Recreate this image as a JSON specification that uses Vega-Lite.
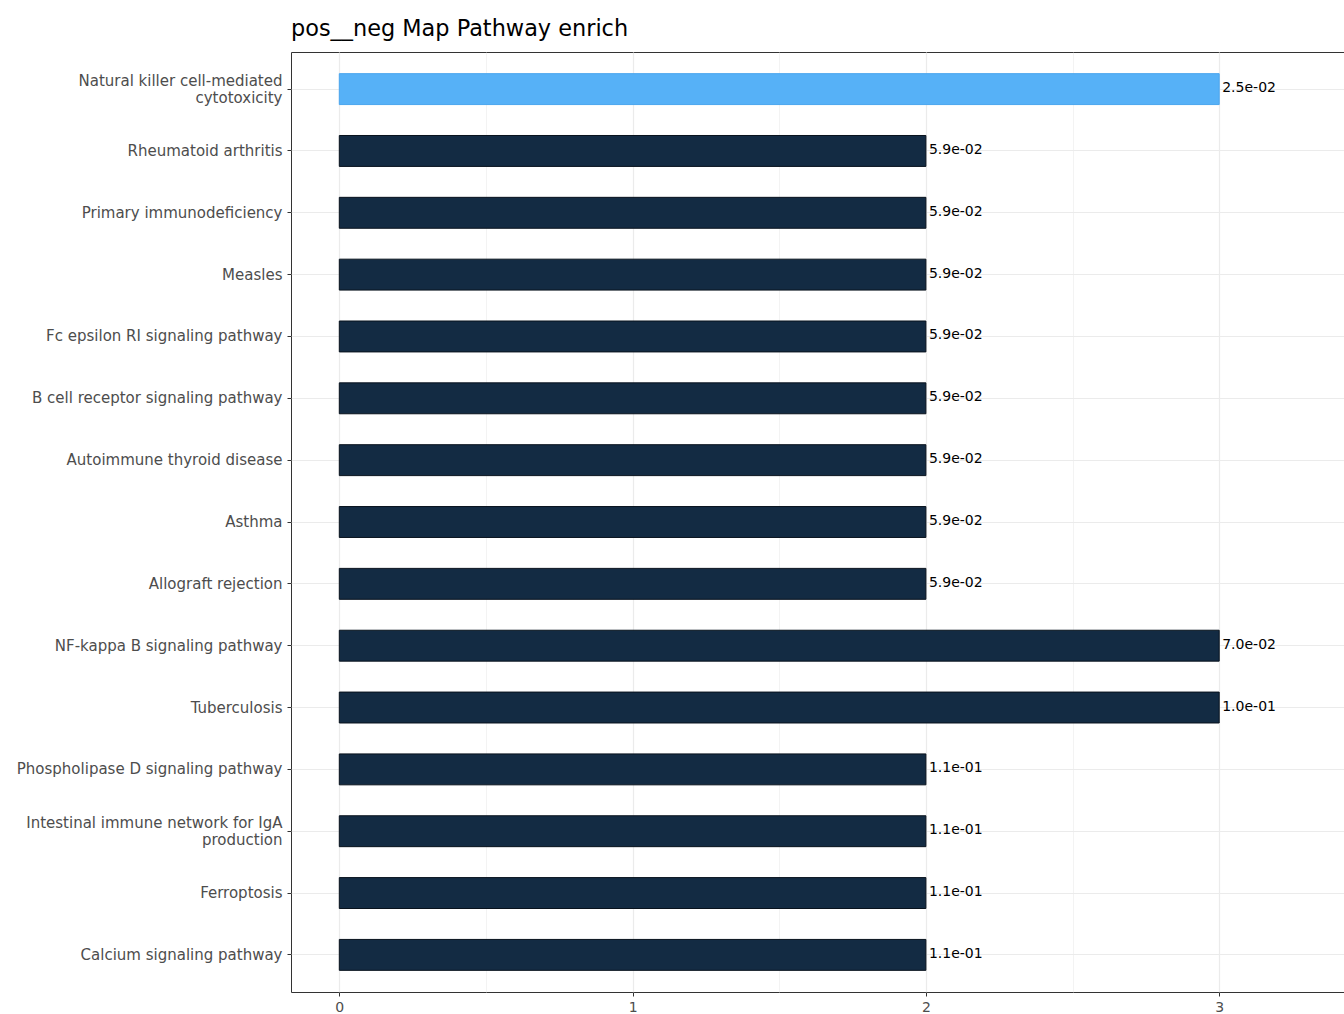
{
  "$schema": "https://vega.github.io/schema/vega-lite/v6.json",
  "width": 1053,
  "height": 940,
  "autosize": {"type": "none"},
  "padding": {"left": 291, "top": 52, "right": 0, "bottom": 22},
  "background": "white",
  "title": {
    "text": "pos__neg Map Pathway enrich",
    "anchor": "start",
    "frame": "group",
    "font": "DejaVu Sans",
    "fontSize": 22.4,
    "fontWeight": "normal",
    "color": "#000000",
    "offset": 12
  },
  "config": {
    "view": {"stroke": "#333333", "strokeWidth": 1}
  },
  "data": {
    "values": [
      {"pathway": "Natural killer cell-mediated cytotoxicity", "count": 3, "pvalue": "2.5e-02"},
      {"pathway": "Rheumatoid arthritis", "count": 2, "pvalue": "5.9e-02"},
      {"pathway": "Primary immunodeficiency", "count": 2, "pvalue": "5.9e-02"},
      {"pathway": "Measles", "count": 2, "pvalue": "5.9e-02"},
      {"pathway": "Fc epsilon RI signaling pathway", "count": 2, "pvalue": "5.9e-02"},
      {"pathway": "B cell receptor signaling pathway", "count": 2, "pvalue": "5.9e-02"},
      {"pathway": "Autoimmune thyroid disease", "count": 2, "pvalue": "5.9e-02"},
      {"pathway": "Asthma", "count": 2, "pvalue": "5.9e-02"},
      {"pathway": "Allograft rejection", "count": 2, "pvalue": "5.9e-02"},
      {"pathway": "NF-kappa B signaling pathway", "count": 3, "pvalue": "7.0e-02"},
      {"pathway": "Tuberculosis", "count": 3, "pvalue": "1.0e-01"},
      {"pathway": "Phospholipase D signaling pathway", "count": 2, "pvalue": "1.1e-01"},
      {"pathway": "Intestinal immune network for IgA production", "count": 2, "pvalue": "1.1e-01"},
      {"pathway": "Ferroptosis", "count": 2, "pvalue": "1.1e-01"},
      {"pathway": "Calcium signaling pathway", "count": 2, "pvalue": "1.1e-01"}
    ]
  },
  "encoding": {
    "y": {
      "field": "pathway",
      "type": "nominal",
      "sort": null,
      "scale": {"paddingInner": 0.5, "paddingOuter": 0.35},
      "axis": {
        "title": null,
        "domain": false,
        "grid": true,
        "bandPosition": 0.5,
        "gridColor": "#ebebeb",
        "gridWidth": 1.2,
        "ticks": true,
        "tickSize": 4,
        "tickColor": "#333333",
        "labelFont": "DejaVu Sans",
        "labelFontSize": 15,
        "labelColor": "#4d4d4d",
        "labelPadding": 5,
        "labelLimit": 0,
        "labelLineHeight": 17,
        "labelOffset": {
          "condition": {"test": "datum.value == 'Natural killer cell-mediated cytotoxicity' || datum.value == 'Intestinal immune network for IgA production'", "value": -8},
          "value": 0
        },
        "labelExpr": "datum.value == 'Natural killer cell-mediated cytotoxicity' ? ['Natural killer cell-mediated', 'cytotoxicity'] : datum.value == 'Intestinal immune network for IgA production' ? ['Intestinal immune network for IgA', 'production'] : datum.value"
      }
    }
  },
  "layer": [
    {
      "mark": {"type": "bar", "strokeWidth": 1},
      "encoding": {
        "x": {
          "field": "count",
          "type": "quantitative",
          "scale": {"domain": [-0.1647, 3.4255], "nice": false, "zero": false},
          "axis": {
            "title": null,
            "domain": false,
            "values": [0, 0.5, 1, 1.5, 2, 2.5, 3],
            "grid": true,
            "gridColor": "#ebebeb",
            "gridWidth": {"condition": {"test": "datum.value % 1 == 0", "value": 1.2}, "value": 0.6},
            "tickSize": 4,
            "tickColor": "#333333",
            "tickOpacity": {"condition": {"test": "datum.value % 1 == 0", "value": 1}, "value": 0},
            "labelExpr": "datum.value % 1 == 0 ? format(datum.value, 'd') : ''",
            "labelFont": "DejaVu Sans",
            "labelFontSize": 14,
            "labelColor": "#4d4d4d",
            "labelPadding": 4
          }
        },
        "x2": {"datum": 0},
        "color": {
          "condition": {"test": "toNumber(datum.pvalue) < 0.05", "value": "#56B1F7"},
          "value": "#132B43"
        },
        "stroke": {
          "condition": {"test": "toNumber(datum.pvalue) < 0.05", "value": "#4aa6ee"},
          "value": "#08121d"
        }
      }
    },
    {
      "mark": {
        "type": "text",
        "align": "left",
        "baseline": "middle",
        "dx": 3,
        "dy": -1,
        "font": "DejaVu Sans",
        "fontSize": 14,
        "color": "#000000"
      },
      "encoding": {
        "x": {"field": "count", "type": "quantitative"},
        "text": {"field": "pvalue"}
      }
    }
  ]
}
